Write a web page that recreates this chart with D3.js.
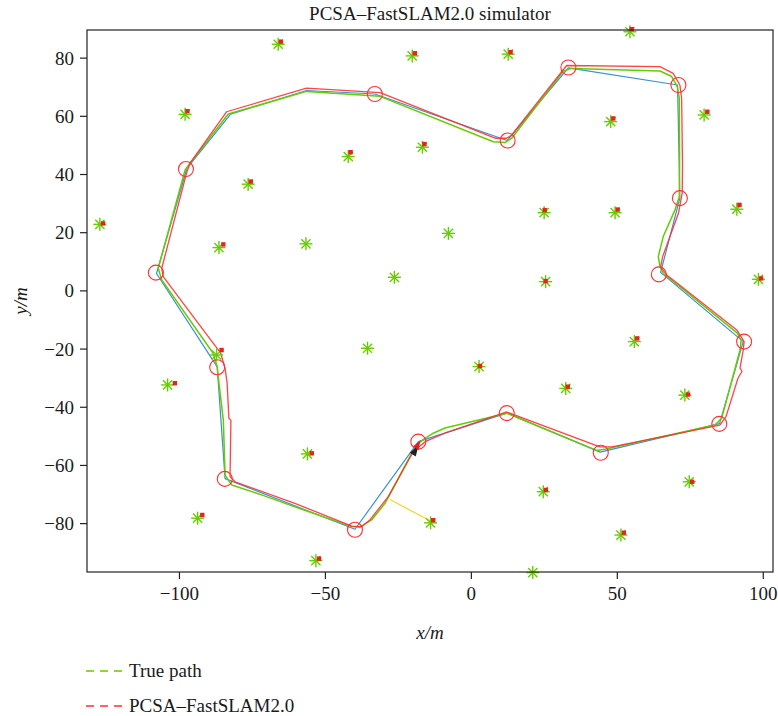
<!DOCTYPE html>
<html><head><meta charset="utf-8">
<script src="https://cdn.jsdelivr.net/npm/d3@7"></script>
<style>
body{margin:0;background:#fff;}
svg text{font-family:"Liberation Serif","Times New Roman",serif !important;fill:#1a1a1a;}
</style></head>
<body><svg id="c" width="778" height="716"></svg>
<script>
// ---- data ----
const titleText = "PCSA\u2013FastSLAM2.0 simulator";
const xTicks = [-100, -50, 0, 50, 100];
const yTicks = [-80, -60, -40, -20, 0, 20, 40, 60, 80];
const legendLabels = ["True path", "PCSA\u2013FastSLAM2.0"];

// true landmarks
const lmX = [-66.0,-20.1,12.8,54.5,-97.9,47.9,79.9,-42.0,-16.6,-76.3,25.1,49.4,91.1,-127.1,-86.3,-56.5,-7.7,-26.2,25.6,98.5,-87.1,-103.9,-35.4,2.8,56.0,32.5,73.3,-56.0,-93.6,-13.8,24.8,74.8,-53.1,51.4,21.2];
const lmY = [84.6,80.6,81.2,88.9,60.5,58.0,60.3,46.0,49.2,36.5,26.7,26.7,27.9,22.7,14.7,16.0,19.6,4.5,3.0,3.8,-22.2,-32.5,-19.9,-26.2,-17.6,-33.7,-36.0,-56.2,-78.3,-79.9,-69.2,-65.8,-92.9,-84.1,-97.0];
// estimated landmarks (null = not observed)
const estX = [-65.1,-19.2,13.6,55.1,-97.1,48.8,81.0,-41.2,-15.9,-75.4,25.3,50.3,92.0,-126.0,-84.8,null,null,null,25.6,99.4,-85.4,-101.4,null,3.1,57.0,33.2,74.4,-54.5,-92.0,-12.9,25.7,75.8,-52.0,52.4,null];
const estY = [85.5,81.5,81.9,89.8,61.6,59.1,61.4,47.5,50.3,37.4,27.6,27.8,29.4,23.0,15.8,null,null,null,3.2,4.1,-20.5,-31.9,null,-26.0,-16.5,-33.1,-35.8,-56.0,-77.2,-79.0,-68.6,-65.8,-92.2,-83.3,null];

// planned path (waypoint polyline)
const wpX = [-18.0,12.3,44.3,85.2,93.3,65.0,71.6,70.8,33.4,12.4,-32.9,-56.3,-82.3,-97.3,-107.7,-86.9,-84.2,-39.7,-18.0];
const wpY = [-52.0,-42.2,-55.6,-45.8,-17.6,6.2,31.7,70.6,76.5,51.5,67.5,68.7,60.6,41.9,5.8,-26.3,-64.7,-82.1,-52.0];
// red circles at waypoints
const circX = [-18.0,12.3,44.5,85.1,93.6,64.4,71.6,71.1,33.4,12.6,-32.9,-97.6,-107.9,-86.9,-84.3,-39.7];
const circY = [-52.0,-42.2,-55.8,-45.9,-17.6,5.5,31.7,70.6,76.6,51.5,67.5,41.7,6.1,-26.4,-64.8,-82.3];

// true path
const trueX = [-18.0,-15.7,-12.9,-8.9,12.3,43.1,46.3,83.6,85.9,92.2,92.6,91.2,65.9,64.8,64.2,65.9,69.9,71.4,71.5,71.4,70.7,68.8,64.8,34.5,31.7,14.0,11.7,7.7,-31.1,-56.3,-83.1,-96.2,-97.9,-107.1,-105.9,-88.3,-86.9,-86.3,-84.8,-84.2,-81.9,-71.7,-60.3,-40.8,-38.0,-34.0,-29.4,-20.3,-18.0];
const trueY = [-52.6,-50.9,-49.1,-47.3,-42.2,-55.0,-54.5,-46.3,-44.0,-20.5,-17.1,-14.6,5.9,8.1,11.6,18.5,27.6,32.2,43.1,66.0,70.0,73.5,75.4,76.3,75.4,52.3,50.8,51.1,66.7,68.4,60.6,43.7,41.4,7.6,3.6,-21.6,-26.2,-31.9,-44.6,-63.5,-66.9,-70.3,-74.4,-81.2,-81.4,-78.9,-73.2,-56.0,-52.6];
// PCSA-FastSLAM2.0 estimate
const estPathX = [-15.7,-8.9,12.3,44.2,48.3,85.3,87.4,91.5,92.9,92.2,93.3,93.6,91.1,67.1,65.0,65.7,71.1,72.4,72.5,72.2,71.6,69.3,64.8,32.8,14.0,12.3,8.3,-31.1,-56.3,-83.7,-96.2,-97.4,-105.9,-105.4,-85.7,-84.2,-83.5,-82.9,-82.2,-82.5,-80.8,-60.3,-40.8,-37.4,-34.6,-28.3,-19.7,-15.7];
const estPathY = [-52.0,-49.1,-41.8,-53.8,-53.8,-46.3,-43.4,-30.2,-27.8,-26.7,-20.5,-17.6,-13.6,5.3,8.1,11.6,26.5,33.4,43.1,66.0,70.6,74.6,76.9,77.3,53.4,52.3,52.3,68.0,69.5,61.4,43.7,40.3,7.6,4.7,-21.6,-26.8,-31.9,-43.9,-44.6,-64.0,-65.8,-73.2,-81.0,-81.2,-78.9,-70.9,-55.4,-52.0];

// observation line (vehicle -> landmark)
const obsX = [-27.7, -13.8];
const obsY = [-71.9, -79.3];
// vehicle pose
const vehX = [-19.0];
const vehY = [-55.0];
const vehHeading = [58];

// ---- drawing ----
const svg = d3.select("#c");
const x = d3.scaleLinear().domain([-131.5, 103.5]).range([87, 773]);
const y = d3.scaleLinear().domain([-96.8, 89.5]).range([572, 30]);

const green = "#66cc00", red = "#ff3030", blue = "#3b8fd4";
const SERIF = "Liberation Serif, Times New Roman, serif";

svg.append("text").attr("x", 430).attr("y", 20).attr("text-anchor", "middle")
  .attr("font-family", SERIF).style("font-size", "19px").text(titleText);

// axes
const fmt = d => (d < 0 ? "\u2212" + Math.abs(d) : String(d));
const gx = svg.append("g").attr("transform", "translate(0,572)")
  .call(d3.axisBottom(x).tickValues(xTicks).tickSize(7).tickSizeOuter(0).tickPadding(8).tickFormat(fmt));
const gy = svg.append("g").attr("transform", "translate(87,0)")
  .call(d3.axisLeft(y).tickValues(yTicks).tickSize(7).tickSizeOuter(0).tickPadding(6).tickFormat(fmt));
[gx, gy].forEach(g => {
  g.attr("font-family", SERIF).attr("font-size", 19);
  g.select(".domain").remove();
  g.selectAll(".tick line").attr("stroke", "#222").attr("stroke-width", 1.2);
  g.selectAll(".tick text").attr("font-family", SERIF).attr("fill", "#1a1a1a");
});
gy.selectAll(".tick text").attr("dy", "0.34em");

svg.append("text").attr("x", 430).attr("y", 639).attr("text-anchor", "middle").attr("font-family", SERIF)
  .style("font-size", "19px").style("font-style", "italic").text("x/m");
svg.append("text").attr("transform", "translate(27,301) rotate(-90)").attr("text-anchor", "middle").attr("font-family", SERIF)
  .style("font-size", "19px").style("font-style", "italic").text("y/m");

const line = d3.line().x(d => x(d[0])).y(d => y(d[1]));
const zipPts = (a, b) => a.map((v, i) => [v, b[i]]);

// paths
svg.append("path").attr("d", line(zipPts(wpX, wpY))).attr("fill", "none")
  .attr("stroke", blue).attr("stroke-width", 1.2).attr("stroke-linejoin", "round");
svg.append("path").attr("d", line(zipPts(trueX, trueY))).attr("fill", "none")
  .attr("stroke", green).attr("stroke-width", 1.5).attr("stroke-linejoin", "round");
svg.append("path").attr("d", line(zipPts(estPathX, estPathY))).attr("fill", "none")
  .attr("stroke", red).attr("stroke-width", 1.3).attr("stroke-opacity", 0.9).attr("stroke-linejoin", "round");

// observation
svg.append("path").attr("d", line(zipPts(obsX, obsY))).attr("stroke", "#f0d820").attr("stroke-width", 1.2).attr("fill", "none");

// waypoint circles
svg.selectAll("circle.wp").data(zipPts(circX, circY)).enter().append("circle")
  .attr("cx", d => x(d[0])).attr("cy", d => y(d[1])).attr("r", 7.5)
  .attr("fill", "none").attr("stroke", red).attr("stroke-width", 1.1);

// landmarks (asterisks)
const star = svg.append("g");
zipPts(lmX, lmY).forEach(d => {
  const cx = x(d[0]), cy = y(d[1]), r = 6.5;
  [0, 45, 90, 135].forEach(a => {
    const t = a * Math.PI / 180;
    star.append("line")
      .attr("x1", cx - r * Math.cos(t)).attr("y1", cy - r * Math.sin(t))
      .attr("x2", cx + r * Math.cos(t)).attr("y2", cy + r * Math.sin(t))
      .attr("stroke", green).attr("stroke-width", 1.4);
  });
});
// estimated landmarks
svg.selectAll("rect.est").data(zipPts(estX, estY).filter(d => d[0] !== null)).enter().append("rect")
  .attr("x", d => x(d[0]) - 2.2).attr("y", d => y(d[1]) - 2.2).attr("width", 4.4).attr("height", 4.4)
  .attr("fill", "#e8231f");

// vehicle
vehX.forEach((vx, i) => {
  const cx = x(vx), cy = y(vehY[i]);
  const g = svg.append("g").attr("transform", `translate(${cx},${cy}) rotate(${-vehHeading[i]})`);
  g.append("path").attr("d", "M6,0 L-5,-3.5 L-5,3.5 Z").attr("fill", "#222");
  g.append("path").attr("d", "M11,-1 L2,-4 L2,2.5 Z").attr("fill", "#e02020");
});

// frame
svg.append("rect").attr("x", 87).attr("y", 30).attr("width", 686).attr("height", 542)
  .attr("fill", "none").attr("stroke", "#222").attr("stroke-width", 1.2);

// legend
const leg = svg.append("g");
[[green, 671], [red, 706]].forEach((c, i) => {
  leg.append("line").attr("x1", 86).attr("x2", 122).attr("y1", c[1]).attr("y2", c[1])
    .attr("stroke", c[0]).attr("stroke-width", 1.3).attr("stroke-dasharray", "8,6");
  leg.append("text").attr("x", 129).attr("y", c[1] + 6).attr("font-family", SERIF).style("font-size", "19px").text(legendLabels[i]);
});
</script></body></html>
